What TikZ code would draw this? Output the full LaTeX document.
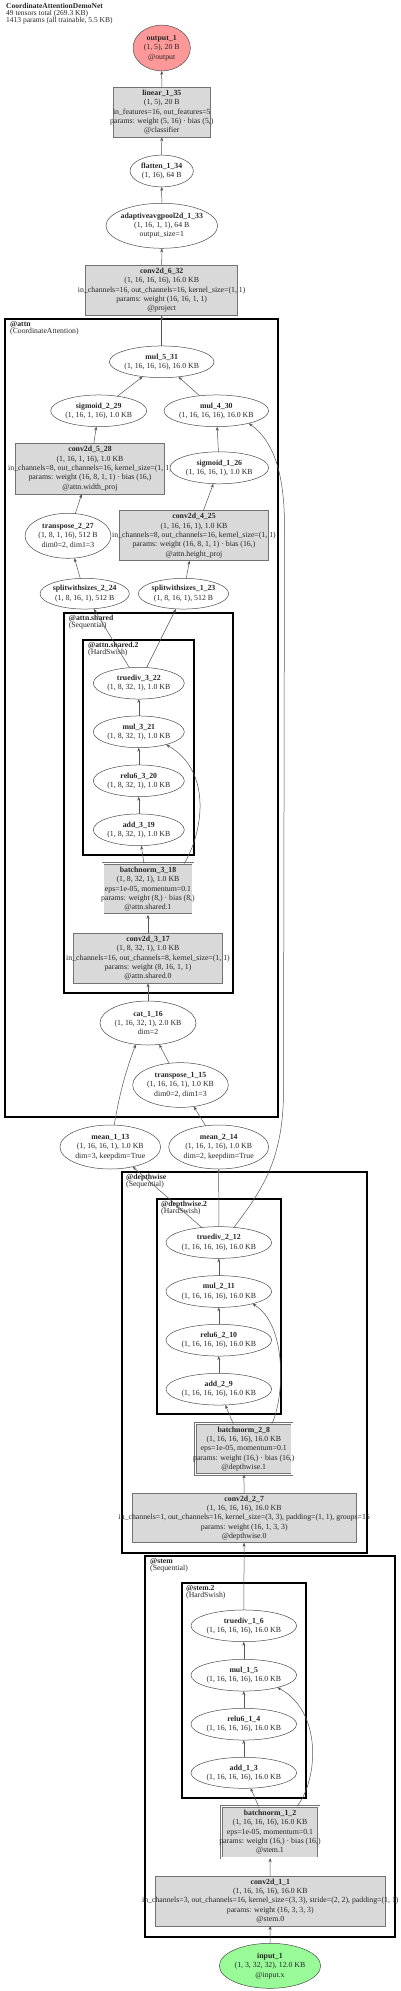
\documentclass[tikz,border=0pt]{standalone}
\usepackage{fontspec}
\setmainfont{Liberation Serif}
\usetikzlibrary{arrows.meta,shapes.geometric}
\definecolor{outred}{HTML}{FF9999}
\definecolor{ingreen}{HTML}{98FB98}
\definecolor{boxgray}{HTML}{D9D9D9}
\definecolor{edgec}{HTML}{555555}
\tikzset{
 ell/.style={ellipse, draw=black!70, line width=0.5pt, fill=white, inner sep=0pt, outer sep=0pt},
 opbox/.style={rectangle, draw=black!55, line width=0.6pt, fill=boxgray, inner sep=0pt, outer sep=0pt},
 dblbox/.style={rectangle, draw=black!55, line width=0.5pt, double=white, double distance=1.6pt, fill=boxgray, inner sep=0pt, outer sep=0pt},
 txt/.style={align=center, inner sep=0pt, text=black!85, font=\fontsize{7.8}{9.3}\selectfont},
 clus/.style={draw=black, line width=2.2pt},
 clab/.style={anchor=north west, align=left, inner sep=0pt, text=black!85, font=\fontsize{7.7}{7}\selectfont},
 arr/.style={draw=edgec, line width=0.5pt, -{Stealth[length=4pt,width=3pt]}},
}
\newcommand{\mkell}[7][]{\node[ell,minimum width=#5pt,minimum height=#6pt,#1] (#2) at (#3,#4) {};\node[txt] (#2-t) at (#2.center) {#7};}
\newcommand{\mkbox}[7][opbox]{\node[#1,minimum width=#5pt,minimum height=#6pt] (#2) at (#3,#4) {};\node[txt] (#2-t) at (#2.center) {#7};}
\begin{document}
\begin{tikzpicture}[x=1pt,y=-1pt]
\useasboundingbox (0,0) rectangle (400,1991);
\fill[white] (0,0) rectangle (400,1991);
% title
\node[clab, font=\fontsize{7.5}{6.9}\selectfont] (title) at (6,3) {\textbf{CoordinateAttentionDemoNet}\\49 tensors total (269.3 KB)\\1413 params (all trainable, 5.5 KB)};
% clusters
\draw[clus] (5,319) rectangle (278.3,1116.7);
\node[clab] (attn-l) at (10,321) {\textbf{@attn}\\(CoordinateAttention)};
\draw[clus] (64,612.7) rectangle (232.7,993.3);
\node[clab] (shared-l) at (68.7,614.7) {\textbf{@attn.shared}\\(Sequential)};
\draw[clus] (83.3,640.3) rectangle (194,855);
\node[clab] (shared2-l) at (88,642.3) {\textbf{@attn.shared.2}\\(HardSwish)};
\draw[clus] (121.7,1172.3) rectangle (366.7,1552.7);
\node[clab] (dw-l) at (126,1174.3) {\textbf{@depthwise}\\(Sequential)};
\draw[clus] (156.7,1199.3) rectangle (280.7,1414.3);
\node[clab] (dw2-l) at (161,1201.3) {\textbf{@depthwise.2}\\(HardSwish)};
\draw[clus] (145,1555.7) rectangle (395,1936.7);
\node[clab] (stem-l) at (150,1557.7) {\textbf{@stem}\\(Sequential)};
\draw[clus] (181.7,1583.3) rectangle (306,1797.7);
\node[clab] (stem2-l) at (186,1585.3) {\textbf{@stem.2}\\(HardSwish)};
% nodes
\mkell[fill=outred]{out}{161.7}{48}{57.3}{45.7}{\textbf{output\_1}\\(1, 5), 20 B\\@output}
\mkbox{lin}{161.8}{112.3}{97}{50}{\textbf{linear\_1\_35}\\(1, 5), 20 B\\in\_features=16, out\_features=5\\params: weight (5, 16) · bias (5,)\\@classifier}
\mkell{flat}{161.7}{171}{63.3}{31.7}{\textbf{flatten\_1\_34}\\(1, 16), 64 B}
\mkell{pool}{161.8}{225.8}{111.7}{45}{\textbf{adaptiveavgpool2d\_1\_33}\\(1, 16, 1, 1), 64 B\\output\_size=1}
\mkbox{conv6}{161.7}{290.3}{152}{50.7}{\textbf{conv2d\_6\_32}\\(1, 16, 16, 16), 16.0 KB\\in\_channels=16, out\_channels=16, kernel\_size=(1, 1)\\params: weight (16, 16, 1, 1)\\@project}
\mkell{mul5}{161.7}{361.8}{104.7}{31.7}{\textbf{mul\_5\_31}\\(1, 16, 16, 16), 16.0 KB}
\mkell{sig2}{98.7}{410.8}{96}{31.7}{\textbf{sigmoid\_2\_29}\\(1, 16, 1, 16), 1.0 KB}
\mkell{mul4}{216.3}{410.8}{104.7}{31.7}{\textbf{mul\_4\_30}\\(1, 16, 16, 16), 16.0 KB}
\mkbox{conv5}{90}{468.7}{148.7}{50.7}{\textbf{conv2d\_5\_28}\\(1, 16, 1, 16), 1.0 KB\\in\_channels=8, out\_channels=16, kernel\_size=(1, 1)\\params: weight (16, 8, 1, 1) · bias (16,)\\@attn.width\_proj}
\mkell{sig1}{219.3}{467.8}{98.7}{32}{\textbf{sigmoid\_1\_26}\\(1, 16, 16, 1), 1.0 KB}
\mkell{tr2}{68}{535.8}{86}{45}{\textbf{transpose\_2\_27}\\(1, 8, 1, 16), 512 B\\dim0=2, dim1=3}
\mkbox{conv4}{194}{535.7}{149.3}{50}{\textbf{conv2d\_4\_25}\\(1, 16, 16, 1), 1.0 KB\\in\_channels=8, out\_channels=16, kernel\_size=(1, 1)\\params: weight (16, 8, 1, 1) · bias (16,)\\@attn.height\_proj}
\mkell{sp2}{84.7}{593.7}{89.3}{30.7}{\textbf{splitwithsizes\_2\_24}\\(1, 8, 16, 1), 512 B}
\mkell{sp1}{183.5}{593.7}{90.3}{30.7}{\textbf{splitwithsizes\_1\_23}\\(1, 8, 16, 1), 512 B}
\mkell{td3}{138.8}{683.2}{91}{31.7}{\textbf{truediv\_3\_22}\\(1, 8, 32, 1), 1.0 KB}
\mkell{mul3}{138.8}{731.8}{91}{31.7}{\textbf{mul\_3\_21}\\(1, 8, 32, 1), 1.0 KB}
\mkell{relu3}{138.8}{780.8}{91}{31.7}{\textbf{relu6\_3\_20}\\(1, 8, 32, 1), 1.0 KB}
\mkell{add3}{138.8}{829.8}{91}{31.7}{\textbf{add\_3\_19}\\(1, 8, 32, 1), 1.0 KB}
\mkbox[dblbox]{bn3}{148}{889.2}{90.1}{51.1}{\textbf{batchnorm\_3\_18}\\(1, 8, 32, 1), 1.0 KB\\eps=1e-05, momentum=0.1\\params: weight (8,) · bias (8,)\\@attn.shared.1}
\mkbox{conv3}{148}{958.3}{149.3}{50}{\textbf{conv2d\_3\_17}\\(1, 8, 32, 1), 1.0 KB\\in\_channels=16, out\_channels=8, kernel\_size=(1, 1)\\params: weight (8, 16, 1, 1)\\@attn.shared.0}
\mkell{cat}{148}{1023}{96}{44}{\textbf{cat\_1\_16}\\(1, 16, 32, 1), 2.0 KB\\dim=2}
\mkell{tr1}{180.5}{1085}{95.7}{44.7}{\textbf{transpose\_1\_15}\\(1, 16, 16, 1), 1.0 KB\\dim0=2, dim1=3}
\mkell{mean1}{110.3}{1147}{100.7}{44}{\textbf{mean\_1\_13}\\(1, 16, 16, 1), 1.0 KB\\dim=3, keepdim=True}
\mkell{mean2}{218.7}{1147}{100}{44}{\textbf{mean\_2\_14}\\(1, 16, 1, 16), 1.0 KB\\dim=2, keepdim=True}
\mkell{td2}{218.8}{1242.5}{105.7}{31.7}{\textbf{truediv\_2\_12}\\(1, 16, 16, 16), 16.0 KB}
\mkell{mul2}{218.8}{1291.5}{105.7}{31.7}{\textbf{mul\_2\_11}\\(1, 16, 16, 16), 16.0 KB}
\mkell{relu2}{218.8}{1340.2}{105.7}{31.7}{\textbf{relu6\_2\_10}\\(1, 16, 16, 16), 16.0 KB}
\mkell{add2}{218.8}{1389.2}{105.7}{31.7}{\textbf{add\_2\_9}\\(1, 16, 16, 16), 16.0 KB}
\mkbox[dblbox]{bn2}{243.8}{1449}{96.4}{50.7}{\textbf{batchnorm\_2\_8}\\(1, 16, 16, 16), 16.0 KB\\eps=1e-05, momentum=0.1\\params: weight (16,) · bias (16,)\\@depthwise.1}
\mkbox{conv2}{244.2}{1518}{223.7}{49.3}{\textbf{conv2d\_2\_7}\\(1, 16, 16, 16), 16.0 KB\\in\_channels=1, out\_channels=16, kernel\_size=(3, 3), padding=(1, 1), groups=16\\params: weight (16, 1, 3, 3)\\@depthwise.0}
\mkell{td1}{243.8}{1625.8}{105.7}{31.7}{\textbf{truediv\_1\_6}\\(1, 16, 16, 16), 16.0 KB}
\mkell{mul1}{243.8}{1675.2}{105.7}{31.7}{\textbf{mul\_1\_5}\\(1, 16, 16, 16), 16.0 KB}
\mkell{relu1}{243.8}{1724.2}{105.7}{31.7}{\textbf{relu6\_1\_4}\\(1, 16, 16, 16), 16.0 KB}
\mkell{add1}{243.8}{1772.8}{105.7}{31}{\textbf{add\_1\_3}\\(1, 16, 16, 16), 16.0 KB}
\mkbox[dblbox]{bn1}{270}{1832.2}{97.4}{51.7}{\textbf{batchnorm\_1\_2}\\(1, 16, 16, 16), 16.0 KB\\eps=1e-05, momentum=0.1\\params: weight (16,) · bias (16,)\\@stem.1}
\mkbox{conv1}{270.3}{1901}{229.3}{50}{\textbf{conv2d\_1\_1}\\(1, 16, 16, 16), 16.0 KB\\in\_channels=3, out\_channels=16, kernel\_size=(3, 3), stride=(2, 2), padding=(1, 1)\\params: weight (16, 3, 3, 3)\\@stem.0}
\mkell[fill=ingreen]{in}{270}{1965.8}{101.3}{45}{\textbf{input\_1}\\(1, 3, 32, 32), 12.0 KB\\@input.x}
% edges
\draw[arr] (in) -- (conv1);
\draw[arr] (conv1) -- (bn1);
\draw[arr] (bn1) -- (add1);
\draw[arr] ([xshift=27pt]bn1.north) .. controls (318,1780) and (323,1712) .. (mul1.-20);
\draw[arr] (add1) -- (relu1);
\draw[arr] (relu1) -- (mul1);
\draw[arr] (mul1) -- (td1);
\draw[arr] (td1) -- (conv2);
\draw[arr] (conv2) -- (bn2);
\draw[arr] (bn2) -- (add2);
\draw[arr] ([xshift=28pt]bn2.north) .. controls (284,1400) and (288,1325) .. (mul2.-20);
\draw[arr] (add2) -- (relu2);
\draw[arr] (relu2) -- (mul2);
\draw[arr] (mul2) -- (td2);
\draw[arr] (td2) -- (mean1);
\draw[arr] (td2) -- (mean2);
\draw[arr] (td2.45) .. controls (262,1190) and (283.5,1160) .. (283.5,1090) -- (284.5,530) .. controls (285,470) and (272,440) .. (mul4.-21);
\draw[arr] (mean1.80) to[out=80,in=-110] (cat.-120);
\draw[arr] (mean2) -- (tr1);
\draw[arr] (tr1) -- (cat);
\draw[arr] (cat) -- (conv3);
\draw[arr] (conv3) -- (bn3);
\draw[arr] (bn3) -- (add3);
\draw[arr] ([xshift=36pt]bn3.north) .. controls (202,835) and (214,772) .. (mul3.-25);
\draw[arr] (add3) -- (relu3);
\draw[arr] (relu3) -- (mul3);
\draw[arr] (mul3) -- (td3);
\draw[arr] (td3) -- (sp2);
\draw[arr] (td3) -- (sp1);
\draw[arr] (sp2) -- (tr2);
\draw[arr] (sp1) -- (conv4);
\draw[arr] (tr2) -- (conv5);
\draw[arr] (conv4) -- (sig1);
\draw[arr] (conv5) -- (sig2);
\draw[arr] (sig1) -- (mul4);
\draw[arr] (sig2) -- (mul5);
\draw[arr] (mul4) -- (mul5);
\draw[arr] (mul5) -- (conv6);
\draw[arr] (conv6) -- (pool);
\draw[arr] (pool) -- (flat);
\draw[arr] (flat) -- (lin);
\draw[arr] (lin) -- (out);
\end{tikzpicture}
\end{document}
